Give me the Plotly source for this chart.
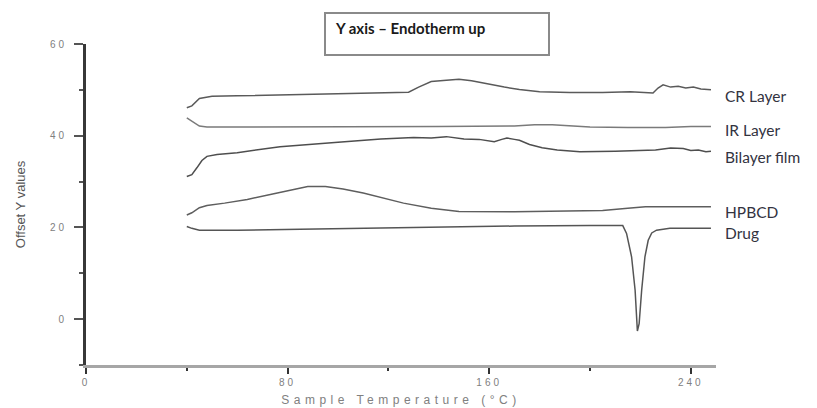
import plotly.graph_objects as go

# ---------------- data ----------------
cr_x = [40, 42, 45, 50, 60, 80, 100, 120, 128, 132, 137, 143, 148, 153, 160, 166, 172, 180, 192, 205, 216, 222, 225, 227, 229, 232, 235, 238, 241, 244, 248]
cr_y = [46.1, 46.5, 48.1, 48.6, 48.7, 48.9, 49.1, 49.3, 49.5, 50.6, 51.8, 52.1, 52.3, 52.0, 51.2, 50.6, 50.1, 49.6, 49.4, 49.4, 49.6, 49.5, 49.3, 50.4, 51.1, 50.6, 50.8, 50.4, 50.6, 50.2, 50.0]

ir_x = [40, 42, 45, 48, 60, 80, 100, 120, 140, 170, 178, 185, 192, 200, 215, 230, 240, 248]
ir_y = [43.9, 43.2, 42.1, 41.9, 41.9, 42.0, 41.9, 42.0, 42.0, 42.1, 42.4, 42.4, 42.2, 41.9, 41.8, 41.8, 42.0, 42.0]

bi_x = [40, 42, 44, 46, 48, 52, 60, 77, 100, 117, 130, 137, 143, 150, 156, 162, 165, 167, 170, 172, 176, 181, 187, 196, 210, 219, 226, 232, 237, 240, 243, 246, 248]
bi_y = [31.1, 31.5, 33.0, 34.6, 35.5, 35.9, 36.3, 37.6, 38.6, 39.3, 39.6, 39.5, 39.8, 39.3, 39.2, 38.7, 39.2, 39.5, 39.2, 39.0, 38.1, 37.4, 36.9, 36.5, 36.6, 36.7, 36.9, 37.3, 37.2, 36.8, 36.9, 36.5, 36.6]

hp_x = [40, 42, 45, 48, 55, 64, 75, 88, 95, 102, 110, 117, 126, 137, 148, 170, 192, 205, 215, 222, 248]
hp_y = [22.7, 23.2, 24.3, 24.8, 25.3, 26.1, 27.4, 28.9, 28.9, 28.4, 27.5, 26.5, 25.3, 24.2, 23.5, 23.4, 23.5, 23.7, 24.2, 24.5, 24.5]

dr_x = [40, 42, 45, 60, 85, 110, 139, 170, 200, 211, 213, 214.5, 216.5, 217.9, 218.8, 219.5, 220.5, 221.8, 223.1, 224.5, 226.4, 231.7, 240, 248]
dr_y = [20.2, 19.8, 19.4, 19.4, 19.6, 19.8, 20.1, 20.3, 20.4, 20.5, 20.4, 18.7, 13.6, 6.3, -2.6, -1.0, 6.3, 13.6, 17.2, 18.8, 19.4, 19.8, 19.8, 19.8]

series_names = ["CR Layer", "IR Layer", "Bilayer film", "HPBCD", "Drug"]
label_y = [48.7, 41.3, 35.4, 23.4, 18.8]

x_ticks = [0, 80, 160, 240]
y_ticks = [0, 20, 40, 60]
title_text = "Y axis \u2013 Endotherm up"
x_title = "Sample Temperature (\u00b0C)"
y_title = "Offset Y values"

# ---------------- figure ----------------
W, H = 817, 408
L, R, T, B = 86, 101, 44, 43
pw, ph = W - L - R, H - T - B

def px(xp):
    return (xp - L) / pw

def py(yp):
    return (H - B - yp) / ph

fig = go.Figure()
line_col = ["#5a5a5a", "#7a7a7a", "#4e4e4e", "#5e5e5e", "#555555"]
for (xs, ys), col in zip([(cr_x, cr_y), (ir_x, ir_y), (bi_x, bi_y), (hp_x, hp_y), (dr_x, dr_y)], line_col):
    fig.add_trace(go.Scatter(x=xs, y=ys, mode="lines",
                             line=dict(color=col, width=1.5), showlegend=False,
                             hoverinfo="skip"))

tick_font = dict(family="Liberation Sans, Arial, sans-serif", size=10, color="#808080")
sp = lambda s, n=3: f'<span style="letter-spacing:{n}px">{s}</span>'

fig.update_xaxes(range=[0, 250], showgrid=False, zeroline=False, automargin=False,
                 showline=True, linecolor="#a6a6a6", linewidth=3,
                 ticks="outside", ticklen=6, tickwidth=2, tickcolor="#333",
                 tickvals=x_ticks, ticktext=[sp(str(v)) for v in x_ticks],
                 tickfont=tick_font,
                 minor=dict(ticks="outside", ticklen=3, tickwidth=2, tickcolor="#333", dtick=40, tick0=0),
                 title=dict(text=sp(x_title, 4.5), font=dict(family="Liberation Sans, Arial, sans-serif", size=12, color="#808080"), standoff=9))
fig.update_yaxes(range=[-10, 60], showgrid=False, zeroline=False, automargin=False,
                 showline=True, linecolor="#383838", linewidth=3,
                 ticks="outside", ticklen=9, tickwidth=1.5, tickcolor="#555",
                 tickvals=y_ticks, ticktext=[sp(str(v)) for v in y_ticks],
                 tickfont=tick_font, ticklabelstandoff=5,
                 minor=dict(ticks="outside", ticklen=4, tickwidth=1.5, tickcolor="#555", dtick=10, tick0=0),
                 title=dict(text=y_title, font=dict(family="Liberation Sans Narrow, Liberation Sans, Arial, sans-serif", size=13, color="#555555"), standoff=22))

# title box
fig.add_shape(type="rect", xref="paper", yref="paper",
              x0=px(325), x1=px(549), y0=py(55), y1=py(13),
              line=dict(color="#8a8a8a", width=2), fillcolor="white")
fig.add_annotation(xref="paper", yref="paper", x=px(333), y=py(28), xanchor="left", yanchor="middle",
                   text=f"<b>{title_text}</b>", showarrow=False,
                   font=dict(family="Lato, Carlito, sans-serif", size=15, color="#1a1a1a"))

# series labels
for name, yv in zip(series_names, label_y):
    fig.add_annotation(xref="paper", yref="y", x=px(723), y=yv, xanchor="left", yanchor="middle",
                       text=name, showarrow=False,
                       font=dict(family="Lato, Carlito, sans-serif", size=15.5, color="#33333f"))

fig.update_layout(width=W, height=H, margin=dict(l=L, r=R, t=T, b=B),
                  paper_bgcolor="white", plot_bgcolor="white")
fig.write_html("out.html")
